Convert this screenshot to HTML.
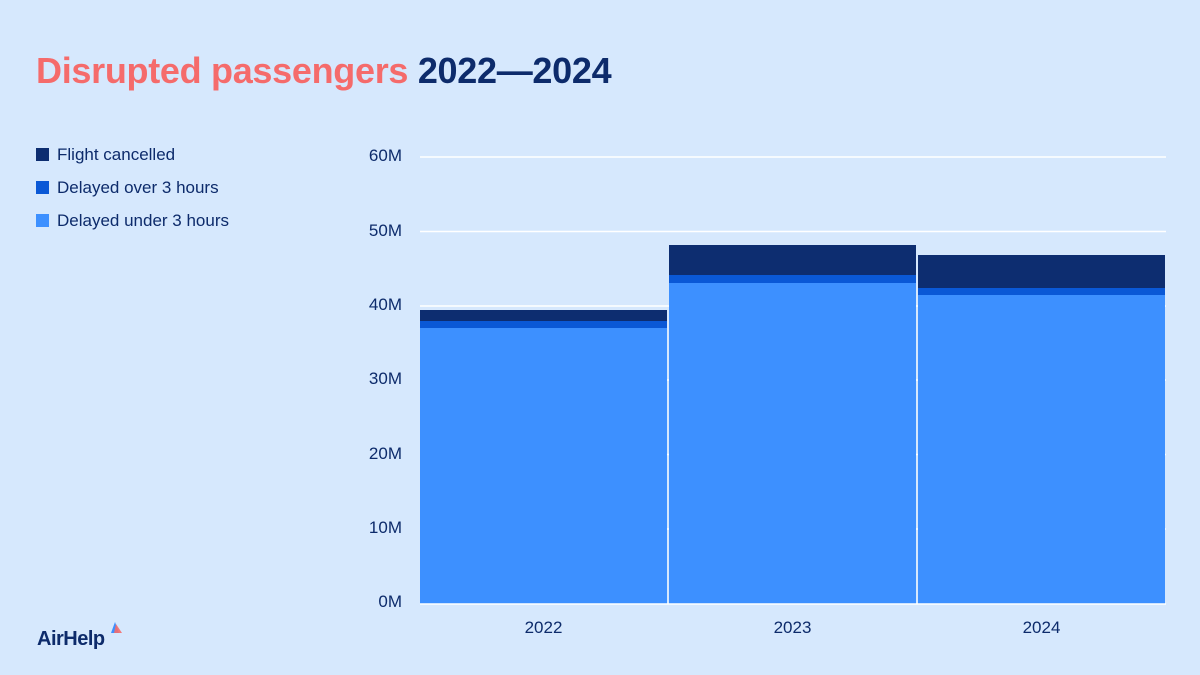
<!DOCTYPE html>
<html><head><meta charset="utf-8"><style>
body{margin:0;width:1200px;height:675px;background:#d6e8fd;font-family:"Liberation Sans",sans-serif;overflow:hidden;position:relative}
.t{position:absolute;left:36px;top:50px;font-size:36px;font-weight:bold;letter-spacing:-0.3px}
.leg{position:absolute;left:36px;font-size:17px;color:#0d2b6b}
.leg span{display:inline-block;width:13px;height:13px;margin-right:8px;vertical-align:-1px}
.yl{position:absolute;right:798px;font-size:17px;color:#0d2b6b;text-align:right}
.xl{position:absolute;top:618px;font-size:17px;color:#0d2b6b;width:247px;text-align:center}
</style></head><body>
<div class="t"><span style="color:#f56b6b">Disrupted passengers</span> <span style="color:#0d2b6b">2022—2024</span></div>
<div class="leg" style="top:145px"><span style="background:#0d2d70"></span>Flight cancelled</div>
<div class="leg" style="top:178px"><span style="background:#0a58d6"></span>Delayed over 3 hours</div>
<div class="leg" style="top:211px"><span style="background:#3d90ff"></span>Delayed under 3 hours</div>
<div class="yl" style="top:146px">60M</div>
<div class="yl" style="top:221px">50M</div>
<div class="yl" style="top:295px">40M</div>
<div class="yl" style="top:369px">30M</div>
<div class="yl" style="top:444px">20M</div>
<div class="yl" style="top:518px">10M</div>
<div class="yl" style="top:592px">0M</div>
<svg width="1200" height="675" style="position:absolute;left:0;top:0">
<g stroke="#fff" stroke-width="1.5">
<line x1="420" x2="1166" y1="157" y2="157"/><line x1="420" x2="1166" y1="231.5" y2="231.5"/>
<line x1="420" x2="1166" y1="306" y2="306"/><line x1="420" x2="1166" y1="380" y2="380"/>
<line x1="420" x2="1166" y1="454.5" y2="454.5"/><line x1="420" x2="1166" y1="529" y2="529"/>
</g>
<rect x="420" y="310" width="247" height="11" fill="#0d2d70"/>
<rect x="420" y="321" width="247" height="7" fill="#0a58d6"/>
<rect x="420" y="328" width="247" height="276" fill="#3d90ff"/>
<rect x="669" y="245" width="247" height="30" fill="#0d2d70"/>
<rect x="669" y="275" width="247" height="8" fill="#0a58d6"/>
<rect x="669" y="283" width="247" height="321" fill="#3d90ff"/>
<rect x="918" y="255" width="247" height="33" fill="#0d2d70"/>
<rect x="918" y="288" width="247" height="7" fill="#0a58d6"/>
<rect x="918" y="295" width="247" height="309" fill="#3d90ff"/>
<line x1="420" x2="1166" y1="604" y2="604" stroke="#fff" stroke-width="1.5"/>
<polygon points="115,622 111,633 119,633" fill="#3d90ff"/>
<polygon points="116,624 114,633 122,633" fill="#f56b6b" opacity="0.9"/>
</svg>
<div class="xl" style="left:420px">2022</div>
<div class="xl" style="left:669px">2023</div>
<div class="xl" style="left:918px">2024</div>
<div style="position:absolute;left:37px;top:628px;font-size:20px;font-weight:bold;color:#0d2b6b;letter-spacing:-0.5px">AirHelp</div>
</body></html>
